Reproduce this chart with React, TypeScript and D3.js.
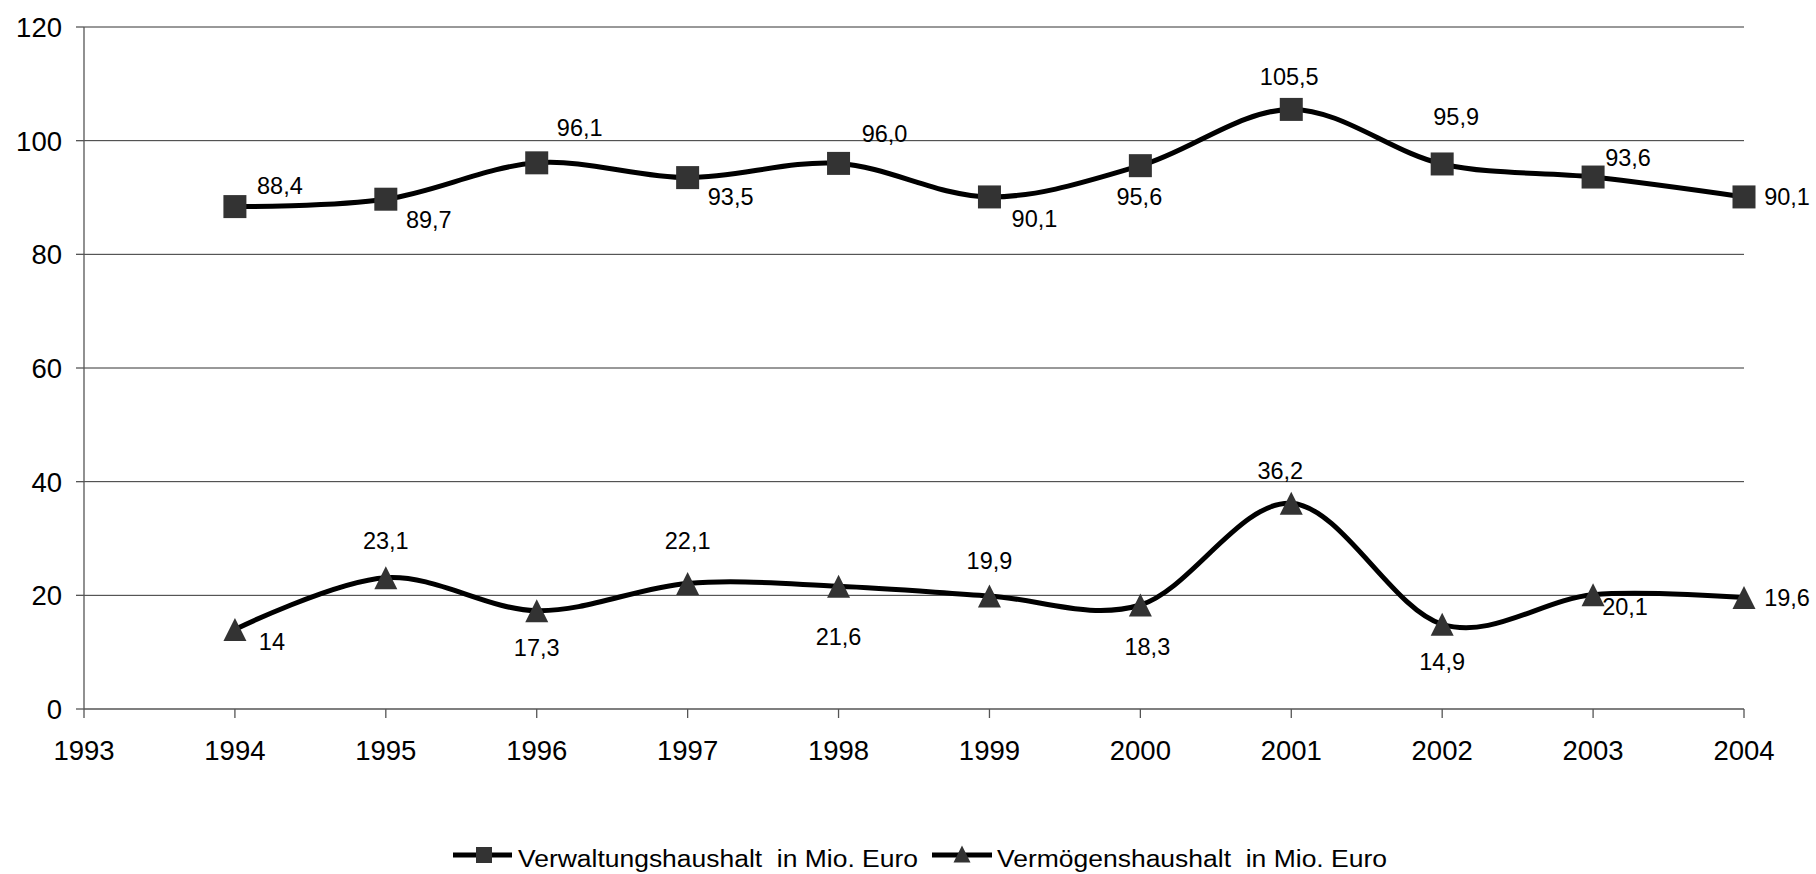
import React from "react";
import * as d3 from "d3";

const years = [1994, 1995, 1996, 1997, 1998, 1999, 2000, 2001, 2002, 2003, 2004];
const verwaltung = [88.4, 89.7, 96.1, 93.5, 96.0, 90.1, 95.6, 105.5, 95.9, 93.6, 90.1];
const vermoegen = [14, 23.1, 17.3, 22.1, 21.6, 19.9, 18.3, 36.2, 14.9, 20.1, 19.6];
const verwaltungLabels = ["88,4", "89,7", "96,1", "93,5", "96,0", "90,1", "95,6", "105,5", "95,9", "93,6", "90,1"];
const vermoegenLabels = ["14", "23,1", "17,3", "22,1", "21,6", "19,9", "18,3", "36,2", "14,9", "20,1", "19,6"];
const xTicks = [1993, 1994, 1995, 1996, 1997, 1998, 1999, 2000, 2001, 2002, 2003, 2004];
const yTicks = [0, 20, 40, 60, 80, 100, 120];
const seriesNames = ["Verwaltungshaushalt  in Mio. Euro", "Vermögenshaushalt  in Mio. Euro"];

// label placement offsets (layout, px)
const verwOffsets: [number, number][] = [
  [45, -21], [43, 20], [43, -35], [43, 19], [46, -30], [45, 22], [-1, 31], [-2, -33], [14, -47], [35, -20], [43, 0],
];
const vermOffsets: [number, number][] = [
  [37, 12], [0, -37], [0, 37], [0, -43], [0, 50], [0, -35], [7, 42], [-11, -33], [0, 37], [32, 12], [43, 0],
];

const FONT = "'Liberation Sans', Arial, sans-serif";

export default function App() {
  const x = d3.scaleLinear().domain([1993, 2004]).range([84, 1744]);
  const y = d3.scaleLinear().domain([0, 120]).range([709, 27]);
  const line = d3
    .line<number>()
    .x((_, i) => x(years[i]))
    .y((d) => y(d))
    .curve(d3.curveCardinal.tension(0));

  const tri = (cx: number, cy: number, s: number) => {
    const h = s;
    return `M${cx},${cy - h / 2} L${cx + s / 2},${cy + h / 2} L${cx - s / 2},${cy + h / 2} Z`;
  };

  return (
    <svg
      width={1816}
      height={874}
      style={{ position: "absolute", left: 0, top: 0, background: "#fff" }}
      fontFamily={FONT}
    >
      <rect x={0} y={0} width={1816} height={874} fill="#fff" />
      {/* gridlines */}
      {yTicks.filter((t) => t > 0).map((t) => (
        <line key={"g" + t} x1={84} x2={1744} y1={y(t)} y2={y(t)} stroke="#333" strokeWidth={1} />
      ))}
      {/* axes */}
      <line x1={84} x2={84} y1={y(120)} y2={y(0)} stroke="#555" strokeWidth={1.3} />
      <line x1={84} x2={1744} y1={y(0)} y2={y(0)} stroke="#555" strokeWidth={1.3} />
      {yTicks.map((t) => (
        <g key={"yt" + t}>
          <line x1={76} x2={84} y1={y(t)} y2={y(t)} stroke="#555" strokeWidth={1.3} />
          <text x={62} y={y(t)} dy="0.36em" textAnchor="end" fontSize={27.5} fill="#000">
            {t}
          </text>
        </g>
      ))}
      {xTicks.map((t) => (
        <g key={"xt" + t}>
          <line x1={x(t)} x2={x(t)} y1={y(0)} y2={y(0) + 9} stroke="#555" strokeWidth={1.3} />
          <text x={x(t)} y={760} textAnchor="middle" fontSize={27.5} fill="#000">
            {t}
          </text>
        </g>
      ))}

      {/* series lines */}
      <path d={line(verwaltung) || ""} fill="none" stroke="#000" strokeWidth={5} />
      <path d={line(vermoegen) || ""} fill="none" stroke="#000" strokeWidth={5} />

      {/* markers */}
      {verwaltung.map((v, i) => (
        <rect key={"s" + i} x={x(years[i]) - 11.5} y={y(v) - 11.5} width={23} height={23} fill="#333" />
      ))}
      {vermoegen.map((v, i) => (
        <path key={"t" + i} d={tri(x(years[i]), y(v), 23)} fill="#333" />
      ))}

      {/* data labels */}
      {verwaltung.map((v, i) => (
        <text
          key={"lv" + i}
          x={x(years[i]) + verwOffsets[i][0]}
          y={y(v) + verwOffsets[i][1]}
          dy="0.36em"
          textAnchor="middle"
          fontSize={23.5}
          fill="#000"
        >
          {verwaltungLabels[i]}
        </text>
      ))}
      {vermoegen.map((v, i) => (
        <text
          key={"lm" + i}
          x={x(years[i]) + vermOffsets[i][0]}
          y={y(v) + vermOffsets[i][1]}
          dy="0.36em"
          textAnchor="middle"
          fontSize={23.5}
          fill="#000"
        >
          {vermoegenLabels[i]}
        </text>
      ))}

      {/* legend */}
      <g style={{ whiteSpace: "pre" }}>
        <line x1={453} x2={512} y1={855} y2={855} stroke="#000" strokeWidth={5} />
        <rect x={476} y={847} width={16} height={16} fill="#333" />
        <text x={518} y={867} fontSize={23} fill="#000" textLength={400} lengthAdjust="spacingAndGlyphs" xmlSpace="preserve">
          {seriesNames[0]}
        </text>
        <line x1={932} x2={992} y1={855} y2={855} stroke="#000" strokeWidth={5} />
        <path d={tri(962, 854, 17)} fill="#333" />
        <text x={997} y={867} fontSize={23} fill="#000" textLength={390} lengthAdjust="spacingAndGlyphs" xmlSpace="preserve">
          {seriesNames[1]}
        </text>
      </g>
    </svg>
  );
}
